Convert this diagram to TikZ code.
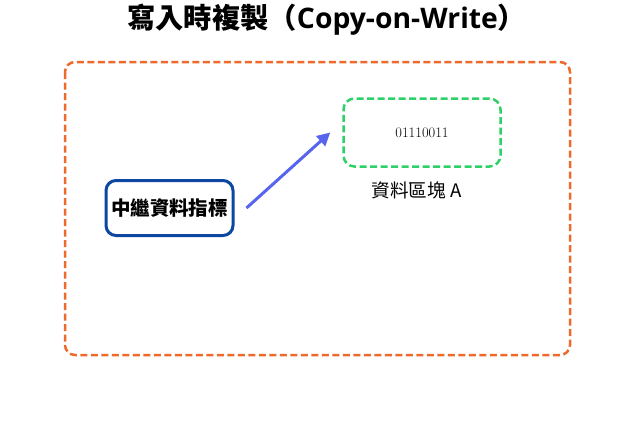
\documentclass[tikz,border=0pt]{standalone}
\usepackage{fontspec}
\setmainfont{Noto Sans CJK TC}
\newfontfamily\lmfont{Latin Modern Roman}
\newfontfamily\latinsans{Open Sans}
\usetikzlibrary{arrows.meta,calc}
\definecolor{frameorange}{HTML}{EE6A2C}
\definecolor{blockgreen}{HTML}{2ED168}
\definecolor{ptrblue}{HTML}{0D47A1}
\definecolor{arrowblue}{HTML}{5664EE}
\tikzset{
  titletext/.style={font=\fontsize{28.3}{32}\selectfont\bfseries, inner sep=0pt},
  frame/.style={draw=frameorange, line width=2.5pt, dash pattern=on 7pt off 3.5pt, rounded corners=10pt},
  blockbox/.style={draw=blockgreen, line width=2.5pt, dash pattern=on 7pt off 3.5pt, rounded corners=11pt, minimum width=157pt, minimum height=68pt, inner sep=0pt},
  ptrbox/.style={draw=ptrblue, line width=3pt, rounded corners=10pt, fill=white, minimum width=127pt, minimum height=55pt, inner sep=0pt, font=\fontsize{19.5}{23}\selectfont\bfseries},
  ptrarrow/.style={draw=arrowblue, line width=3pt, -{Triangle[length=13pt,width=13pt]}},
  labeltext/.style={font=\fontsize{18.6}{22}\selectfont}
}
\begin{document}
\begin{tikzpicture}[x=1pt,y=-1pt]
\useasboundingbox[fill=white] (0,0) rectangle (625,421);
\node[titletext, anchor=base west] (title) at (127,28) {寫入時複製（{\latinsans\bfseries Copy-on-Write}）};
\draw[frame] (65,62) rectangle (570,355);
\node[blockbox] (block) at (422,132.5) {\lmfont\fontsize{14.5}{17}\selectfont 01110011};
\node[labeltext] (blocklabel) at (416.5,190) {資料區塊 A};
\node[ptrbox] (ptr) at (169.5,208) {中繼資料指標};
\draw[ptrarrow] ($(ptr.east)+(12,0)$) -- ($(block.west)+(-12,0)$);
\end{tikzpicture}
\end{document}
